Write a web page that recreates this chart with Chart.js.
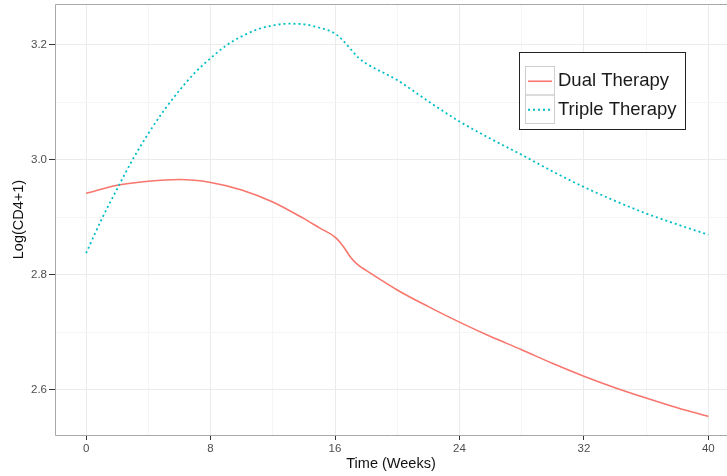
<!DOCTYPE html>
<html>
<head>
<meta charset="utf-8">
<script src="https://cdn.jsdelivr.net/npm/chart.js@4.4.1/dist/chart.umd.min.js"></script>
<style>
  html, body { margin: 0; padding: 0; background: #fff; }
  canvas { display: block; }
</style>
</head>
<body>
<canvas id="cd4Chart" width="727" height="476"></canvas>
<script>
// fitted Log(CD4+1) curves
const dualWeeks = [0, 2, 4, 6, 8, 10, 12, 14, 15, 16, 16.5, 17, 17.5, 18, 20, 22, 24, 26, 28, 30, 32, 34, 36, 38, 40];
const dualValues = [2.942, 2.956, 2.963, 2.966, 2.961, 2.948, 2.927, 2.898, 2.882, 2.866, 2.851, 2.831, 2.817, 2.808, 2.774, 2.745, 2.718, 2.693, 2.670, 2.646, 2.624, 2.604, 2.586, 2.569, 2.554];

const tripleWeeks = [0, 1, 2, 3, 4, 5, 6, 7, 8, 9, 10, 11, 12, 13, 14, 15, 16, 16.5, 17, 17.5, 18, 20, 22, 24, 26, 28, 30, 32, 34, 36, 38, 40];
const tripleValues = [2.838, 2.897, 2.950, 3.001, 3.046, 3.086, 3.121, 3.152, 3.177, 3.199, 3.215, 3.227, 3.234, 3.237, 3.236, 3.230, 3.220, 3.208, 3.193, 3.178, 3.168, 3.139, 3.102, 3.067, 3.037, 3.009, 2.980, 2.953, 2.929, 2.907, 2.888, 2.870];

const xTicks = [0, 4, 8, 12, 16, 20, 24, 28, 32, 36, 40];
const yTicks = [2.6, 2.7, 2.8, 2.9, 3.0, 3.1, 3.2];

const RED = '#F8766D';
const TEAL = '#00BFC4';

const toPoints = (xs, ys) => xs.map((x, i) => ({ x: x, y: ys[i] }));

const isMajorX = v => v % 8 === 0;
const isMajorY = v => Math.round(v * 10) % 2 === 0;

// ggplot-ish panel border (right side runs off the image)
const panelBorder = {
  id: 'panelBorder',
  afterDatasetsDraw(chart) {
    const a = chart.chartArea;
    const c = chart.ctx;
    c.save();
    c.strokeStyle = '#a8a8a8';
    c.lineWidth = 1;
    c.beginPath();
    c.moveTo(a.right + 2, a.top + 0.5);
    c.lineTo(a.left + 0.5, a.top + 0.5);
    c.lineTo(a.left + 0.5, a.bottom + 0.5);
    c.lineTo(a.right + 2, a.bottom + 0.5);
    c.stroke();
    c.restore();
  }
};

// boxed legend inside the panel
const boxLegend = {
  id: 'boxLegend',
  afterDraw(chart) {
    const c = chart.ctx;
    const x0 = 519, y0 = 52, w = 166, h = 77;
    const keyX = 525, keyW = 29, keyH = 28.5, keyY = 66;
    c.save();
    c.fillStyle = '#fff';
    c.fillRect(x0, y0, w, h);
    c.strokeStyle = '#222';
    c.lineWidth = 1;
    c.strokeRect(x0 + 0.5, y0 + 0.5, w, h);
    chart.data.datasets.forEach((ds, i) => {
      const ky = keyY + i * keyH;
      c.strokeStyle = '#cfcfcf';
      c.lineWidth = 1;
      c.strokeRect(keyX + 0.5, ky + 0.5, keyW, keyH);
      c.strokeStyle = ds.borderColor;
      c.lineWidth = ds.borderWidth;
      c.setLineDash(ds.borderDash || []);
      c.beginPath();
      c.moveTo(keyX + 3, ky + keyH / 2 + 1);
      c.lineTo(keyX + keyW - 2, ky + keyH / 2 + 1);
      c.stroke();
      c.setLineDash([]);
      c.fillStyle = '#1a1a1a';
      c.font = '18.5px "Liberation Sans", Arial, sans-serif';
      c.textBaseline = 'middle';
      c.fillText(ds.label, keyX + keyW + 4, ky + keyH / 2 + 1);
    });
    c.restore();
  }
};

const tickFont = { family: '"Liberation Sans", Arial, sans-serif', size: 11.5 };
const titleFont = { family: '"Liberation Sans", Arial, sans-serif', size: 14.5 };

new Chart(document.getElementById('cd4Chart'), {
  type: 'line',
  data: {
    datasets: [{
      label: 'Dual Therapy',
      data: toPoints(dualWeeks, dualValues),
      borderColor: RED,
      borderWidth: 1.6,
      pointRadius: 0,
      cubicInterpolationMode: 'monotone',
      fill: false,
      order: 2
    }, {
      label: 'Triple Therapy',
      data: toPoints(tripleWeeks, tripleValues),
      borderColor: TEAL,
      borderWidth: 1.8,
      borderDash: [2, 3],
      pointRadius: 0,
      cubicInterpolationMode: 'monotone',
      fill: false,
      order: 1
    }]
  },
  options: {
    responsive: false,
    animation: false,
    devicePixelRatio: 1,
    layout: { padding: { top: 4, right: 0, left: 0, bottom: 0 } },
    plugins: {
      legend: { display: false },
      tooltip: { enabled: false }
    },
    scales: {
      x: {
        type: 'linear',
        min: -2,
        max: 41.2,
        afterFit: s => { s.height = 41; s.paddingLeft = 0; s.paddingRight = 0; },
        afterBuildTicks: s => { s.ticks = xTicks.map(v => ({ value: v })); },
        border: { display: false },
        grid: {
          color: ctx => isMajorX(ctx.tick.value) ? '#ebebeb' : '#f5f5f5',
          tickColor: ctx => isMajorX(ctx.tick.value) ? '#333' : 'rgba(0,0,0,0)',
          tickLength: 5,
          lineWidth: 1
        },
        ticks: {
          autoSkip: false,
          maxRotation: 0,
          padding: 2,
          color: '#4d4d4d',
          font: tickFont,
          callback: v => isMajorX(v) ? String(v) : ''
        },
        title: {
          display: true,
          text: 'Time (Weeks)',
          color: '#111',
          font: titleFont,
          padding: { top: 0, bottom: 3 }
        }
      },
      y: {
        min: 2.5217,
        max: 3.2713,
        afterFit: s => { s.width = 55; s.paddingTop = 0; s.paddingBottom = 0; },
        afterBuildTicks: s => { s.ticks = yTicks.map(v => ({ value: v })); },
        border: { display: false },
        grid: {
          color: ctx => isMajorY(ctx.tick.value) ? '#ebebeb' : '#f5f5f5',
          tickColor: ctx => isMajorY(ctx.tick.value) ? '#333' : 'rgba(0,0,0,0)',
          tickLength: 6,
          lineWidth: 1
        },
        ticks: {
          autoSkip: false,
          padding: 2,
          color: '#4d4d4d',
          font: tickFont,
          callback: v => isMajorY(v) ? v.toFixed(1) : ''
        },
        title: {
          display: true,
          text: 'Log(CD4+1)',
          color: '#111',
          font: titleFont,
          padding: { top: 10, bottom: 0 }
        }
      }
    }
  },
  plugins: [panelBorder, boxLegend]
});
</script>
</body>
</html>
